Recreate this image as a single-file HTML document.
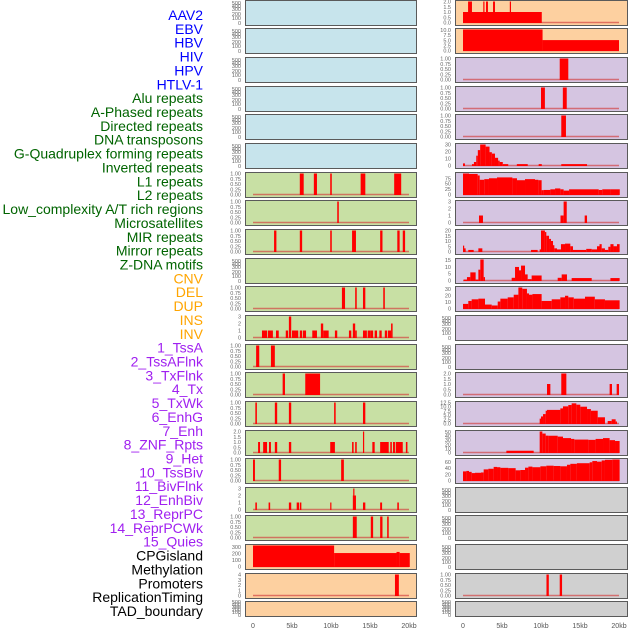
<!DOCTYPE html>
<html><head><meta charset="utf-8"><style>
html,body{margin:0;padding:0;background:#fff;width:630px;height:630px;overflow:hidden}
svg{display:block}
</style></head><body>
<svg id="chart" width="630" height="630" xmlns="http://www.w3.org/2000/svg" font-family="Liberation Sans, sans-serif"></svg>
<script>
const rowLabels=["AAV2","EBV","HBV","HIV","HPV","HTLV-1","Alu repeats","A-Phased repeats","Directed repeats","DNA transposons","G-Quadruplex forming repeats","Inverted repeats","L1 repeats","L2 repeats","Low_complexity A/T rich regions","Microsatellites","MIR repeats","Mirror repeats","Z-DNA motifs","CNV","DEL","DUP","INS","INV","1_TssA","2_TssAFlnk","3_TxFlnk","4_Tx","5_TxWk","6_EnhG","7_Enh","8_ZNF_Rpts","9_Het","10_TssBiv","11_BivFlnk","12_EnhBiv","13_ReprPC","14_ReprPCWk","15_Quies","CPGisland","Methylation","Promoters","ReplicationTiming","TAD_boundary"];
const labelColors=["#0000ff","#0000ff","#0000ff","#0000ff","#0000ff","#0000ff","#006400","#006400","#006400","#006400","#006400","#006400","#006400","#006400","#006400","#006400","#006400","#006400","#006400","#ffa500","#ffa500","#ffa500","#ffa500","#ffa500","#a020f0","#a020f0","#a020f0","#a020f0","#a020f0","#a020f0","#a020f0","#a020f0","#a020f0","#a020f0","#a020f0","#a020f0","#a020f0","#a020f0","#a020f0","#000","#000","#000","#000","#000"];
const xTicks=[0,5,10,15,20];
const xTickLabels=["0","5kb","10kb","15kb","20kb"];
const T01=[0,0.25,0.5,0.75,1];
const T02=[0,0.5,1,1.5,2];
const T03=[0,1,2,3];
// left column bars [startKb,endKb,value]
const L6=[[6.0,6.5,1],[7.8,8.2,1],[9.9,10.1,1],[13.8,14.4,1],[18.1,19.0,1]];
const L7=[[10.8,11.0,1]];
const L8=[[2.7,3.0,1],[6.0,6.3,1],[9.9,10.1,1],[12.7,13.2,1],[16.3,16.6,1],[18.5,18.8,1],[19.2,19.5,1]];
const L10=[[11.4,11.8,1],[13.1,13.3,1],[14.1,14.4,1],[16.7,16.9,1]];
const L11=[[1.15,1.8,1],[1.9,2.55,1],[2.95,3.3,1],[4.2,4.5,1],[4.6,4.9,3],[5.0,5.8,1],[6.0,6.3,1],[6.4,6.8,1],[7.6,8.2,1],[8.7,9.0,2],[9.0,9.7,1],[10.5,10.8,1],[12.3,12.6,1],[12.8,13.1,2],[13.1,13.3,1],[14.1,14.6,1],[14.7,15.1,1],[15.1,15.4,1],[15.6,15.9,1],[16.2,16.5,1],[16.9,17.2,1],[17.3,17.7,1],[17.7,17.9,2]];
const L12=[[0.4,0.8,1],[2.3,2.8,1]];
const L13=[[3.8,4.1,1],[6.7,8.6,1]];
const L14=[[0.3,0.5,1],[2.8,3.1,1],[4.6,4.9,1],[10.4,10.6,1],[14.1,14.4,1]];
const L15=[[0.65,0.9,1],[1.3,1.8,1],[2.05,2.3,1],[2.8,3.1,1],[4.6,4.9,1],[9.9,10.5,1],[12.7,12.9,1],[13.1,13.3,1],[14.1,14.25,2],[15.3,15.6,1],[16.3,17.4,1],[17.6,17.8,1],[17.95,18.2,1],[18.3,19.2,1],[19.6,19.8,1]];
const L16=[[0,0.25,1],[3.3,3.6,1],[11.3,11.65,1]];
const L17=[[0.3,0.5,1],[2.0,2.2,1],[4.6,4.9,1],[5.6,5.9,1],[6.0,6.2,1],[9.9,10.0,1],[12.8,13.2,2],[12.85,13.0,3],[14.1,14.4,1],[16.3,16.55,1],[18.5,18.7,1]];
const L18=[[12.8,13.3,1],[15.1,15.4,1],[16.3,16.6,1],[17.2,17.4,1]];
const L19=[[0,10.4,320],[10.4,18.4,205],[18.4,18.8,222],[18.8,20.1,205]];
const L20=[[18.2,18.7,4]];
// right column bars
const R0=[[0,10.1,1],[0.65,1.15,2],[2.6,2.7,2],[2.95,3.2,2],[3.85,4.1,2],[6.0,6.15,2]];
const R1=[[0,10.2,10.3],[10.2,20.0,5.1]];
const R2=[[12.4,13.5,1]];
const R3=[[10.0,10.5,1],[12.8,13.3,1]];
const R4=[[12.6,13.2,1]];
const R5=[[0,0.25,3],[1.15,1.4,2],[1.4,1.7,5],[1.7,1.9,14],[1.9,2.2,22],[2.2,2.9,30],[2.9,3.4,27],[3.4,3.7,19],[3.7,4.1,17],[4.1,4.5,11],[4.5,4.7,7],[4.7,5.1,5],[5.1,5.8,2],[6.9,8.3,2],[9.7,10.1,2],[12.6,15.9,2]];
const R6=[[0,0.77,97],[0.77,1.88,95],[1.88,2.14,88],[2.14,2.73,68],[2.73,3.33,71],[3.33,4.36,75],[4.36,6.33,79],[6.33,6.92,75],[6.92,7.95,66],[7.95,9.23,71],[9.23,9.66,68],[9.66,10.08,66],[10.08,10.34,20],[10.34,11.2,21],[11.2,11.8,24],[11.8,12.48,28],[12.48,12.9,24],[12.9,13.6,18],[13.6,17.4,24],[17.4,17.86,21],[17.86,18.9,24],[18.9,20.1,24]];
const R7=[[2.05,2.56,1],[12.5,12.9,1],[12.9,13.3,3],[15.6,15.9,1]];
const R8=[[0,0.09,5.6],[0.09,0.34,3],[0.68,1.37,1.5],[1.97,2.48,3],[8.72,9.57,1.5],[9.83,10.0,2],[10.0,10.5,20],[10.5,10.68,18.5],[10.68,11.03,15],[11.03,11.28,12],[11.28,11.54,10],[11.54,11.71,6],[11.71,12.05,3],[12.05,12.56,2],[12.56,13.08,7],[13.08,13.76,7.5],[13.76,14.1,5],[14.1,15.8,1.5],[15.8,16.5,2.5],[16.5,17.18,2],[17.18,17.5,5],[17.5,17.78,7],[17.78,18.2,3],[18.2,18.63,1.5],[18.63,18.9,4.5],[18.9,19.3,7],[19.3,19.74,5],[19.74,20.08,7]];
const R9=[[0.09,0.51,0.7],[0.51,0.94,2.5],[0.94,1.62,6],[1.62,1.97,0.7],[1.97,2.22,8],[2.22,2.65,15.5],[2.65,2.82,2.5],[6.24,6.67,2],[6.67,7.18,10],[7.18,7.44,7.5],[7.44,7.95,11],[7.95,8.29,4.5],[8.29,8.8,1],[8.8,10.08,3.7],[12.14,12.65,2],[12.65,13.33,4.5],[13.93,16.5,1.8],[18.9,20.08,1.8]];
const R10=[[0,0.68,7],[0.68,1.11,11.5],[1.11,1.97,14],[1.97,2.82,15],[2.82,3.68,6],[3.68,4.45,4.6],[4.45,4.79,10.6],[4.79,5.73,15],[5.73,6.5,17],[6.5,7.1,21],[7.1,7.6,32],[7.6,8.2,30],[8.2,8.46,23],[8.46,8.9,21],[8.9,10.08,22],[10.08,11.37,11.5],[11.37,12.48,14],[12.48,13.08,17],[13.08,13.5,19.4],[13.5,14.2,17],[14.2,15.64,15],[15.64,16.9,18],[16.9,18.2,14],[18.2,20.08,12.5]];
const R13=[[10.77,11.2,1],[12.6,13.25,2],[18.8,19.1,1],[19.7,20.0,1]];
const R14=[[9.83,10.0,2.9],[10.0,10.26,4.2],[10.26,10.6,5.6],[10.6,10.77,7.6],[10.77,12.48,8.1],[12.48,12.82,9],[12.82,13.5,10.2],[13.5,13.93,11],[13.93,14.53,12],[14.53,15.04,11.2],[15.04,15.9,10],[15.9,16.4,8.6],[16.4,17.27,7.6],[17.27,18.2,3.7],[18.55,19.06,1.5],[19.06,19.57,2.5],[19.57,19.74,1.2]];
const R15=[[5.56,9.06,4.3],[9.83,10.17,51],[10.17,10.6,46],[10.6,10.94,41],[10.94,12.14,40.7],[12.14,12.82,38.6],[12.82,13.85,35],[13.85,14.27,33],[14.27,16.07,31.4],[16.07,17.0,30.7],[17.0,17.95,33],[17.95,18.8,35],[18.8,19.49,30],[19.49,20.08,27.9]];
const R16=[[0,0.43,29.5],[0.43,0.77,31],[0.77,1.11,28],[1.11,1.54,24],[1.54,2.31,25],[2.31,2.65,26],[2.65,3.25,36],[3.25,3.93,38],[3.93,4.36,44],[4.36,4.79,43],[4.79,5.81,41],[5.81,6.75,40],[6.75,7.35,33],[7.35,7.95,34],[7.95,8.38,41.5],[8.38,8.9,45],[8.9,9.92,43],[9.92,10.68,46],[10.68,11.62,48],[11.62,12.48,47],[12.48,13.33,46],[13.33,13.76,51],[13.76,14.6,54],[14.6,16.24,56],[16.24,16.58,59],[16.58,17.18,63],[17.18,17.78,61],[17.78,18.2,65],[18.2,19.15,67],[19.15,20.08,68]];
const R20=[[10.7,11.0,1],[12.4,12.7,1]];

const NS="http://www.w3.org/2000/svg";
const svg=document.getElementById('chart');
function mk(tag,attrs,parent){const e=document.createElementNS(NS,tag);for(const k in attrs)e.setAttribute(k,attrs[k]);(parent||svg).appendChild(e);return e;}
const rowTops=[0,28,57,86,114,143,172,200,229,258,286,315,344,372,401,430,458,487,515,544,573,601];
const BLUE="#c7e4ec",GREEN="#c8e0a4",ORANGE="#fdd0a0",PURPLE="#d5c5e1",GRAY="#d0d0d0";
function xs(side,kb){return (side==='L'?253:463)+kb*7.8;}
function fmt(v,d){return v.toFixed(d);}
const leftSpec=[];const rightSpec=[];
for(let r=0;r<22;r++){
 leftSpec.push({bg:r<6?BLUE:(r<19?GREEN:ORANGE),bars:null,ticks:null,dec:0});
 rightSpec.push({bg:r<2?ORANGE:(r<17?PURPLE:GRAY),bars:null,ticks:null,dec:0});
}
function setL(r,b,t,d){leftSpec[r].bars=b;leftSpec[r].ticks=t;leftSpec[r].dec=d;}
function setR(r,b,t,d){rightSpec[r].bars=b;rightSpec[r].ticks=t;rightSpec[r].dec=d;}
setL(6,L6,T01,2);setL(7,L7,T01,2);setL(8,L8,T01,2);setL(10,L10,T01,2);setL(11,L11,T03,0);
setL(12,L12,T01,2);setL(13,L13,T01,2);setL(14,L14,T01,2);setL(15,L15,T02,1);setL(16,L16,T01,2);
setL(17,L17,T03,0);setL(18,L18,T01,2);setL(19,L19,[0,100,200,300],0);setL(20,L20,[0,1,2,3,4],0);
setR(0,R0,T02,1);setR(1,R1,[0,2.5,5,7.5,10],1);setR(2,R2,T01,2);setR(3,R3,T01,2);setR(4,R4,T01,2);
setR(5,R5,[0,10,20,30],0);setR(6,R6,[0,25,50,75],0);setR(7,R7,T03,0);setR(8,R8,[0,5,10,15,20],0);
setR(9,R9,[0,5,10,15],0);setR(10,R10,[0,10,20,30],0);setR(13,R13,T02,1);setR(14,R14,[0,2.5,5,7.5,10,12.5],1);
setR(15,R15,[0,10,20,30,40,50],0);setR(16,R16,[0,20,40,60],0);setR(20,R20,T01,2);

function drawPanel(side,r,spec){
 const top=rowTops[r],h=(r===21?15:25);
 const x0=side==='L'?245:455,w=side==='L'?171:172;
 const g=mk('g',{});
 
 
 mk('rect',{x:x0+0.5,y:top+0.5,width:w,height:h,fill:spec.bg,stroke:'#5a5a5a','stroke-width':1},g);
 const tx=side==='L'?241:451;
 if(!spec.bars){
  const offs=r===21?[1,3.5,6,8.5,11,14]:[3,6,9,14,18,23];
  const labs=["500","400","300","200","100","0"];
  labs.forEach((l,i)=>{const t=mk('text',{x:tx,y:top+offs[i]+2,'font-size':5.5,fill:'#666','text-anchor':'end'},g);t.textContent=l;});
  return;
 }
 let ymax=spec.ticks[spec.ticks.length-1];
 spec.bars.forEach(b=>{if(b[2]>ymax)ymax=b[2];});
 const ys=v=>top+1.5+(1-v/ymax)*(h-4);
 spec.ticks.forEach(v=>{const t=mk('text',{x:tx,y:ys(v)+2,'font-size':5.5,fill:'#666','text-anchor':'end'},g);t.textContent=fmt(v,spec.dec);});
 const bl=mk('line',{x1:xs(side,0),x2:xs(side,20),y1:ys(0),y2:ys(0),stroke:'rgba(210,60,60,0.65)','stroke-width':1.5},g);
 
 
 spec.bars.forEach(b=>{
  const x1=xs(side,b[0]),x2=xs(side,b[1]);
  const rc=mk('rect',{x:x1,y:ys(b[2]),width:Math.max(1.2,x2-x1),height:ys(0)-ys(b[2])+0.5,fill:'#ff0000'},g);
  
  
 });
}
for(let r=0;r<22;r++){drawPanel('L',r,leftSpec[r]);drawPanel('R',r,rightSpec[r]);}
rowLabels.forEach((l,i)=>{
 const t=mk('text',{x:203,y:15+i*13.86+5,'font-size':14,fill:labelColors[i],'text-anchor':'end'});
 t.textContent=l;
 
 
});
['L','R'].forEach(side=>{
 xTicks.forEach((v,i)=>{
  const t=mk('text',{x:xs(side,v),y:628,'font-size':7,fill:'#555','text-anchor':'middle'});
  t.textContent=xTickLabels[i];
  
  
 });
});
</script>
</body></html>
